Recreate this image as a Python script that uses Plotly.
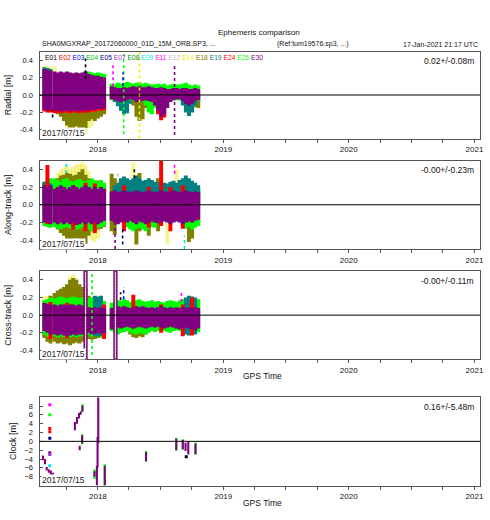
import plotly.graph_objects as go

# ---------------- satellites / legend ----------------
SATS = ["E01", "E02", "E03", "E04", "E05", "E07", "E08", "E09", "E11", "E12",
        "E14", "E18", "E19", "E24", "E26", "E30"]
SAT_COLORS = {"E01": "#000000", "E02": "#ff0000", "E03": "#0000ff", "E04": "#00cd00",
              "E05": "#000080", "E07": "#9932cc", "E08": "#008b00", "E09": "#00e5e5",
              "E11": "#ff00ff", "E12": "#c0c0c0", "E14": "#f0f000", "E18": "#808000",
              "E19": "#008080", "E24": "#ff0000", "E26": "#00ff00", "E30": "#800080"}

PANEL_TITLES = ["Radial [m]", "Along-track [m]", "Cross-track [m]", "Clock [m]"]
STATS = ["0.02+/-0.08m", "-0.00+/-0.23m", "-0.00+/-0.11m", "0.16+/-5.48m"]
START_LABEL = "2017/07/15"
TITLE = "Ephemeris comparison"
SUB_LEFT = "SHA0MGXRAP_20172060000_01D_15M_ORB.SP3, ..."
SUB_MID = "(Ref:tum19576.sp3, ...)"
SUB_RIGHT = "17-Jan-2021 21:17 UTC"
X_TITLE = "GPS Time"
X_RANGE = ["2017-07-15", "2021-01-17"]
ORB_TICKS = [-0.4, -0.2, 0.0, 0.2, 0.4]
ORB_TICKTEXT = ["-0.4", "-0.2", "0.0", "0.2", "0.4"]
CLK_TICKS = [-8, -6, -4, -2, 0, 2, 4, 6, 8]

# ---------------- time bins (bin centres) ----------------
BIN_DATES = ["2017-07-29", "2017-08-07", "2017-08-16", "2017-08-28", "2017-09-06",
             "2017-09-15", "2017-09-24", "2017-10-03", "2017-10-12", "2017-10-21",
             "2017-10-30", "2017-11-08", "2017-11-17", "2017-11-26", "2017-12-05",
             "2017-12-14", "2017-12-23", "2018-01-01", "2018-01-10", "2018-01-19",
             "2018-02-10", "2018-02-19", "2018-02-28", "2018-03-09", "2018-03-18",
             "2018-03-27", "2018-04-05", "2018-04-14", "2018-04-23", "2018-05-02",
             "2018-05-11", "2018-05-20", "2018-05-29", "2018-06-07", "2018-06-16",
             "2018-06-25", "2018-07-04", "2018-07-13", "2018-07-22", "2018-07-31",
             "2018-08-09", "2018-08-18", "2018-08-27", "2018-09-05", "2018-09-14",
             "2018-09-23", "2018-10-02", "2018-10-11", "2018-10-20"]

# ---------------- Radial ----------------
RAD_E30_LO = [-0.17, -0.18, -0.17, -0.18, -0.18, -0.19, -0.18, -0.18, -0.19, -0.18,
              -0.18, -0.19, -0.18, -0.18, -0.18, -0.17, -0.17, -0.16, -0.16, -0.15,
              -0.05, -0.06, -0.07, -0.08, -0.07, -0.06, -0.05, -0.06, -0.08, -0.08,
              -0.07, -0.06, -0.07, -0.08, -0.12, -0.18, -0.25, -0.22, -0.15, -0.08,
              -0.06, -0.05, -0.05, -0.07, -0.10, -0.12, -0.10, -0.07, -0.06]
RAD_E30_HI = [0.30, 0.29, 0.28, 0.27, 0.26, 0.27, 0.26, 0.27, 0.26, 0.25,
              0.26, 0.25, 0.26, 0.27, 0.24, 0.23, 0.22, 0.22, 0.21, 0.20,
              0.10, 0.09, 0.08, 0.08, 0.09, 0.08, 0.09, 0.10, 0.09, 0.10,
              0.09, 0.09, 0.10, 0.09, 0.08, 0.08, 0.09, 0.08, 0.07, 0.07,
              0.08, 0.08, 0.07, 0.08, 0.08, 0.07, 0.07, 0.08, 0.07]

RAD_E18_DATES = ["2017-09-06", "2017-09-15", "2017-09-24", "2017-10-03", "2017-10-12",
                 "2017-10-21", "2017-10-30", "2017-11-08", "2017-11-17", "2017-11-26",
                 "2017-12-05", "2017-12-14", "2017-12-23", "2018-01-01", "2018-01-10",
                 "2018-01-19", "2018-04-14", "2018-04-23", "2018-05-02", "2018-05-11",
                 "2018-05-20", "2018-10-02", "2018-10-11", "2018-10-20"]
RAD_E18_LO = [-0.22, -0.25, -0.30, -0.35, -0.38, -0.38, -0.36, -0.40, -0.42, -0.38,
              -0.30, -0.28, -0.30, -0.27, -0.25, -0.22, -0.12, -0.25, -0.30, -0.28,
              -0.15, -0.10, -0.14, -0.15]
RAD_E18_HI = [0.00, 0.00, 0.00, 0.00, 0.00, 0.00, 0.00, 0.00, 0.00, 0.00,
              0.00, 0.00, 0.00, 0.00, 0.00, 0.00, 0.00, 0.00, 0.00, 0.00,
              0.00, 0.00, 0.00, 0.00]

RAD_E14_DATES = ["2017-07-29", "2017-08-07", "2017-08-16", "2017-08-28", "2017-10-03",
                 "2017-10-12", "2017-10-21", "2017-10-30", "2017-11-08", "2017-11-17",
                 "2017-11-26", "2017-12-05", "2017-12-14"]
RAD_E14_LO = [0.20, 0.20, 0.20, 0.20, -0.42, -0.44, -0.46, -0.44, -0.47, -0.48, -0.45, -0.38, -0.35]
RAD_E14_HI = [0.33, 0.34, 0.32, 0.33, -0.20, -0.20, -0.20, -0.20, -0.20, -0.20, -0.20, -0.20, -0.20]

RAD_E19_DATES = ["2017-07-29", "2017-08-07", "2017-08-16", "2018-02-19", "2018-02-28",
                 "2018-03-09", "2018-03-18", "2018-03-27", "2018-04-05", "2018-09-05",
                 "2018-09-14", "2018-09-23", "2018-10-02", "2018-10-11"]
RAD_E19_LO = [0.00, 0.00, 0.00, -0.08, -0.13, -0.18, -0.22, -0.21, -0.10, -0.12, -0.20, -0.24, -0.20, -0.12]
RAD_E19_HI = [0.32, 0.31, 0.30, 0.05, 0.05, 0.05, 0.05, 0.05, 0.05, 0.05, 0.05, 0.05, 0.05, 0.05]

RAD_E26_DATES = BIN_DATES[14:]
RAD_E26_LO = [0.00, 0.00, 0.00, 0.00, 0.00, 0.00,
              -0.06, -0.06, -0.07, -0.07, -0.07, -0.06, -0.06, -0.07, -0.08, -0.08,
              -0.08, -0.12, -0.20, -0.22, -0.15, -0.08, -0.08, -0.07, -0.06, -0.06,
              -0.06, -0.06, -0.06, -0.07, -0.08, -0.08, -0.08, -0.07, -0.07]
RAD_E26_HI = [0.27, 0.26, 0.25, 0.26, 0.25, 0.24,
              0.13, 0.12, 0.14, 0.13, 0.14, 0.15, 0.14, 0.13, 0.14, 0.15,
              0.13, 0.14, 0.13, 0.12, 0.12, 0.13, 0.12, 0.13, 0.11, 0.12,
              0.13, 0.12, 0.12, 0.13, 0.14, 0.12, 0.11, 0.12, 0.11]

RAD_E02_DATES = BIN_DATES[:20] + ["2018-06-25", "2018-07-04", "2018-07-13"]
RAD_E02_LO = [-0.19, -0.20, -0.20, -0.21, -0.20, -0.21, -0.20, -0.20, -0.21, -0.20,
              -0.20, -0.21, -0.20, -0.20, -0.20, -0.19, -0.19, -0.18, -0.18, -0.17,
              -0.22, -0.29, -0.26]
RAD_E02_HI = [0.00, 0.00, 0.00, 0.00, 0.00, 0.00, 0.00, 0.00, 0.00, 0.00,
              0.00, 0.00, 0.00, 0.00, 0.00, 0.00, 0.00, 0.00, 0.00, 0.00,
              0.00, 0.00, 0.00]

RAD_SPK_SAT = ["E26", "E14", "E30", "E01", "E01", "E11", "E03"]
RAD_SPK_DATE = ["2018-03-17", "2018-05-02", "2018-08-12", "2017-11-26", "2017-08-22", "2018-02-14", "2018-03-15"]
RAD_SPK_LO = [-0.45, -0.50, -0.46, 0.18, -0.26, 0.10, 0.10]
RAD_SPK_HI = [0.47, 0.50, 0.35, 0.42, -0.17, 0.38, 0.26]

# ---------------- Along-track ----------------
ALT_E30_LO = [-0.20, -0.20, -0.22, -0.20, -0.22, -0.20, -0.22, -0.20, -0.22, -0.20,
              -0.23, -0.22, -0.20, -0.22, -0.20, -0.22, -0.20, -0.22, -0.20, -0.18,
              -0.18, -0.20, -0.22, -0.20, -0.19, -0.20, -0.18, -0.20, -0.22, -0.19,
              -0.20, -0.22, -0.20, -0.19, -0.20, -0.21, -0.20, -0.19, -0.20, -0.22,
              -0.20, -0.19, -0.20, -0.22, -0.20, -0.19, -0.20, -0.18, -0.17]
ALT_E30_HI = [0.22, 0.20, 0.22, 0.18, 0.20, 0.22, 0.20, 0.18, 0.20, 0.22,
              0.20, 0.18, 0.20, 0.22, 0.20, 0.18, 0.20, 0.18, 0.20, 0.18,
              0.15, 0.16, 0.14, 0.15, 0.16, 0.15, 0.14, 0.15, 0.16, 0.15,
              0.14, 0.15, 0.16, 0.15, 0.14, 0.15, 0.16, 0.15, 0.14, 0.15,
              0.16, 0.15, 0.14, 0.15, 0.16, 0.15, 0.14, 0.15, 0.14]

ALT_E19_DATES = BIN_DATES[:3] + BIN_DATES[21:]
ALT_E19_LO = [0.00, 0.00, 0.00,
              0.00, 0.00, 0.00, 0.00, 0.00, 0.00, 0.00, 0.00, 0.00, 0.00,
              0.00, 0.00, 0.00, 0.00, 0.00, 0.00, 0.00, 0.00, 0.00, 0.00,
              0.00, 0.00, 0.00, 0.00, 0.00, 0.00, 0.00, 0.00]
ALT_E19_HI = [0.26, 0.25, 0.24,
              0.22, 0.25, 0.30, 0.32, 0.30, 0.28, 0.30, 0.33, 0.30, 0.27,
              0.28, 0.30, 0.28, 0.26, 0.25, 0.27, 0.25, 0.24, 0.26, 0.27,
              0.25, 0.28, 0.30, 0.33, 0.30, 0.27, 0.25, 0.22]

ALT_E26_DATES = BIN_DATES[:20] + BIN_DATES[25:35] + BIN_DATES[43:]
ALT_E26_LO = [-0.24, -0.25, -0.26, -0.25, -0.27, -0.28, -0.26, -0.25, -0.27, -0.26,
              -0.28, -0.27, -0.25, -0.26, -0.28, -0.30, -0.28, -0.26, -0.25, -0.24,
              -0.25, -0.28, -0.30, -0.27, -0.26, -0.28, -0.30, -0.27, -0.25, -0.26,
              -0.24, -0.27, -0.25, -0.28, -0.26, -0.24]
ALT_E26_HI = [0.25, 0.28, 0.30, 0.30, 0.28, 0.26, 0.29, 0.30, 0.27, 0.26,
              0.28, 0.29, 0.27, 0.26, 0.28, 0.30, 0.28, 0.26, 0.28, 0.25,
              0.18, 0.18, 0.18, 0.18, 0.18, 0.18, 0.18, 0.18, 0.18, 0.18,
              0.18, 0.18, 0.18, 0.18, 0.18, 0.18]

ALT_E18_DATES = BIN_DATES[3:20] + ["2018-02-10", "2018-02-19", "2018-04-23", "2018-05-02",
                                   "2018-05-29", "2018-06-25", "2018-09-23", "2018-10-02"]
ALT_E18_LO = [-0.25, -0.28, -0.32, -0.35, -0.40, -0.42, -0.40, -0.38, -0.42, -0.45,
              -0.44, -0.35, -0.30, -0.30, -0.28, -0.27, -0.25,
              -0.30, -0.34, -0.45, -0.30, -0.35, -0.30, -0.42, -0.38]
ALT_E18_HI = [0.22, 0.30, 0.33, 0.34, 0.36, 0.35, 0.33, 0.34, 0.37, 0.40,
              0.34, 0.30, 0.29, 0.28, 0.27, 0.26, 0.24,
              0.35, 0.30, 0.20, 0.36, 0.20, 0.30, 0.20, 0.20]

ALT_E14_DATES = BIN_DATES[4:15] + ["2017-12-14", "2017-12-23", "2018-01-01", "2018-04-14", "2018-07-22", "2018-08-18"]
ALT_E14_LO = [0.20, 0.20, 0.20, 0.20, 0.20, 0.20, 0.20, 0.20, 0.20, 0.20, 0.20,
              -0.40, -0.42, -0.38, 0.20, -0.45, 0.20]
ALT_E14_HI = [0.36, 0.40, 0.42, 0.44, 0.40, 0.43, 0.45, 0.46, 0.48, 0.45, 0.38,
              -0.20, -0.20, -0.20, 0.48, -0.20, 0.40]

ALT_E02_DATES = ["2017-08-07", "2017-10-21", "2017-11-26", "2017-12-23", "2018-03-18",
                 "2018-05-29", "2018-07-04", "2018-07-31", "2018-09-05"]
ALT_E02_LO = [-0.22, -0.28, -0.30, -0.32, -0.30, -0.26, -0.24, -0.30, -0.27]
ALT_E02_HI = [0.45, 0.22, 0.25, 0.24, 0.22, 0.20, 0.50, 0.20, 0.22]

ALT_SPK_SAT = ["E09", "E09", "E09", "E01", "E05", "E30", "E11", "E12"]
ALT_SPK_DATE = ["2017-10-01", "2017-11-22", "2018-09-10", "2018-04-17", "2018-03-14",
                "2018-02-20", "2018-08-12", "2018-02-28"]
ALT_SPK_LO = [0.36, -0.50, -0.50, 0.30, -0.45, -0.50, 0.35, 0.25]
ALT_SPK_HI = [0.50, -0.38, -0.35, 0.42, -0.25, -0.20, 0.47, 0.38]

# ---------------- Cross-track ----------------
XTR_E30_LO = [-0.18, -0.20, -0.22, -0.22, -0.23, -0.22, -0.23, -0.24, -0.23, -0.22,
              -0.23, -0.22, -0.22, -0.21, -0.20, -0.22, -0.21, -0.20, -0.21, -0.20,
              -0.16, -0.15, -0.14, -0.15, -0.14, -0.13, -0.14, -0.15, -0.14, -0.13,
              -0.14, -0.15, -0.14, -0.13, -0.14, -0.13, -0.14, -0.15, -0.14, -0.13,
              -0.14, -0.15, -0.16, -0.15, -0.14, -0.15, -0.16, -0.17, -0.15]
XTR_E30_HI = [0.14, 0.13, 0.12, 0.12, 0.11, 0.12, 0.12, 0.11, 0.12, 0.12,
              0.11, 0.12, 0.11, 0.10, 0.09, 0.08, 0.09, 0.08, 0.09, 0.08,
              0.08, 0.09, 0.10, 0.09, 0.10, 0.09, 0.08, 0.09, 0.10, 0.09,
              0.10, 0.09, 0.08, 0.09, 0.08, 0.09, 0.10, 0.09, 0.08, 0.09,
              0.08, 0.09, 0.08, 0.09, 0.08, 0.09, 0.08, 0.09, 0.08]

XTR_E26_LO = [-0.22, -0.24, -0.25, -0.24, -0.25, -0.24, -0.25, -0.26, -0.25, -0.24,
              -0.25, -0.24, -0.24, -0.23, -0.22, -0.24, -0.23, -0.24, -0.25, -0.24,
              -0.18, -0.20, -0.22, -0.20, -0.19, -0.18, -0.20, -0.21, -0.22, -0.20,
              -0.21, -0.22, -0.20, -0.18, -0.19, -0.18, -0.17, -0.18, -0.19, -0.20,
              -0.18, -0.17, -0.18, -0.20, -0.21, -0.22, -0.20, -0.21, -0.19]
XTR_E26_HI = [0.17, 0.18, 0.20, 0.19, 0.20, 0.21, 0.20, 0.19, 0.20, 0.21,
              0.20, 0.19, 0.20, 0.21, 0.20, 0.19, 0.18, 0.18, 0.17, 0.16,
              0.14, 0.15, 0.17, 0.16, 0.18, 0.17, 0.15, 0.16, 0.17, 0.18,
              0.16, 0.15, 0.16, 0.17, 0.15, 0.16, 0.15, 0.14, 0.16, 0.17,
              0.16, 0.15, 0.17, 0.18, 0.19, 0.18, 0.17, 0.19, 0.18]

XTR_E18_DATES = BIN_DATES[:20] + BIN_DATES[26:32]
XTR_E18_LO = [-0.26, -0.30, -0.32, -0.30, -0.32, -0.31, -0.33, -0.32, -0.34, -0.32,
              -0.31, -0.32, -0.30, -0.28, -0.27, -0.28, -0.27, -0.26, -0.25, -0.24,
              -0.22, -0.25, -0.26, -0.24, -0.25, -0.22]
XTR_E18_HI = [0.10, 0.15, 0.22, 0.25, 0.28, 0.30, 0.32, 0.35, 0.40, 0.42,
              0.40, 0.35, 0.32, 0.30, 0.22, 0.20, 0.18, 0.17, 0.16, 0.15,
              0.10, 0.10, 0.10, 0.10, 0.10, 0.10]

XTR_E14_DATES = ["2017-07-29", "2017-08-07", "2017-10-12", "2017-10-21", "2017-10-30"]
XTR_E14_LO = [0.12, 0.12, 0.30, 0.30, 0.30]
XTR_E14_HI = [0.21, 0.22, 0.44, 0.46, 0.42]

XTR_E19_DATES = ["2017-12-23", "2018-01-01", "2018-01-10", "2018-09-14", "2018-09-23", "2018-10-02", "2018-10-11"]
XTR_E19_LO = [-0.24, -0.24, -0.24, -0.22, -0.23, -0.22, -0.22]
XTR_E19_HI = [0.22, 0.21, 0.22, 0.20, 0.22, 0.21, 0.20]

XTR_E02_DATES = ["2017-08-16", "2017-10-03", "2018-01-19", "2018-04-14", "2018-07-04", "2018-09-05", "2018-10-02"]
XTR_E02_LO = [-0.27, -0.26, -0.27, -0.15, -0.20, -0.24, -0.23]
XTR_E02_HI = [0.15, 0.14, 0.12, 0.23, 0.12, 0.12, 0.20]

XTR_STRIPE_DATES = ["2017-11-26", "2018-02-21"]
XTR_STRIPE_LO = [-0.50, -0.50]
XTR_STRIPE_HI = [0.50, 0.50]

XTR_SPK_SAT = ["E26", "E03", "E01", "E11"]
XTR_SPK_DATE = ["2017-12-15", "2018-03-17", "2018-03-08", "2018-09-01"]
XTR_SPK_LO = [-0.45, 0.18, 0.17, 0.15]
XTR_SPK_HI = [0.48, 0.32, 0.26, 0.26]

# ---------------- Clock ----------------
CLK_DATES = ["2017-07-25", "2017-07-31", "2017-08-05", "2017-08-11", "2017-08-17", "2017-08-23",
             "2017-09-12",
             "2017-10-26", "2017-11-01", "2017-11-07", "2017-11-12", "2017-11-17",
             "2017-11-09", "2017-11-16",
             "2017-12-22", "2017-12-29", "2017-12-31", "2018-01-02",
             "2018-01-21", "2018-05-21", "2018-08-17",
             "2018-09-05", "2018-09-13", "2018-09-21", "2018-10-12"]
CLK_LO = [-4.3, -5.2, -6.6, -7.1, -7.7, -8.4,
          -10.0,
          2.5, 4.0, 5.2, 6.0, 6.8,
          -2.0, -0.5,
          -8.0, -10.0, -6.0, -0.5,
          -10.0, -4.5, -2.0,
          -1.8, -2.2, -3.0, -2.9]
CLK_HI = [-3.2, -4.0, -5.8, -6.3, -6.6, -7.1,
          -9.5,
          4.4, 5.5, 6.4, 6.8, 8.1,
          -1.0, 1.4,
          -6.8, -5.5, 1.0, 10.0,
          -5.5, -2.4, 0.6,
          0.3, -0.3, 0.0, -0.5]

CLK_E26_DATES = ["2017-11-17", "2017-11-16", "2017-12-22", "2018-01-21", "2018-05-21",
                 "2018-08-17", "2018-09-05", "2018-10-12"]
CLK_E26_LO = [6.6, -0.7, -8.5, -10.0, -4.6, -2.1, -1.9, -3.0]
CLK_E26_HI = [8.4, 1.6, -6.3, -5.2, -2.2, 0.8, 0.5, -0.3]

CLK_PT_SAT = ["E11", "E26", "E02", "E02", "E05", "E30", "E07", "E09", "E01"]
CLK_PT_DATE = ["2017-08-14", "2017-08-14", "2017-08-14", "2017-08-14", "2017-08-14",
               "2017-08-14", "2017-08-14", "2017-08-14", "2018-09-15"]
CLK_PT_VAL = [8.3, 6.0, 2.9, 2.2, 0.7, -2.6, -3.0, -5.5, -3.5]

# ---------------- figure ----------------
DAY_MS = 86400000
FONT = "Arial, Liberation Sans, sans-serif"
X_DOMAIN = [39.5 / 490, 480 / 490]
Y_DOMAINS = [[1 - 138.5 / 520, 1 - 51.5 / 520],
             [1 - 249 / 520, 1 - 160.5 / 520],
             [1 - 359.3 / 520, 1 - 271 / 520],
             [1 - 485.5 / 520, 1 - 397.2 / 520]]

fig = go.Figure()


def suf(i):
    return "" if i == 1 else str(i)


def band(panel, dates, lo, hi, color, width_days=11.5, pattern=None, line=None):
    assert len(dates) == len(lo) == len(hi), (len(dates), len(lo), len(hi))
    marker = dict(color=color, line=line or dict(width=0))
    if pattern:
        marker["pattern"] = pattern
    fig.add_trace(go.Bar(x=dates, base=lo, y=[h - l for l, h in zip(lo, hi)],
                         width=width_days * DAY_MS, marker=marker,
                         xaxis="x" + suf(panel), yaxis="y" + suf(panel),
                         hoverinfo="skip", showlegend=False))


def spikes(panel, sats, dates, lo, hi):
    for s, d, l, h in zip(sats, dates, lo, hi):
        fig.add_trace(go.Scatter(x=[d, d], y=[l, h], mode="lines",
                                 line=dict(color=SAT_COLORS[s], width=1.6, dash="dot"),
                                 xaxis="x" + suf(panel), yaxis="y" + suf(panel),
                                 hoverinfo="skip", showlegend=False))


YELLOW_PAT = dict(shape=".", fgcolor="#e8e800", bgcolor="rgba(0,0,0,0)",
                  size=3, solidity=0.8, fillmode="overlay")
YEL = "rgba(255,255,255,0)"

# panel 1 - radial
band(1, RAD_E14_DATES, RAD_E14_LO, RAD_E14_HI, YEL, pattern=YELLOW_PAT)
band(1, RAD_E18_DATES, RAD_E18_LO, RAD_E18_HI, SAT_COLORS["E18"])
band(1, RAD_E19_DATES, RAD_E19_LO, RAD_E19_HI, SAT_COLORS["E19"])
band(1, RAD_E26_DATES, RAD_E26_LO, RAD_E26_HI, SAT_COLORS["E26"])
band(1, RAD_E02_DATES, RAD_E02_LO, RAD_E02_HI, SAT_COLORS["E02"])
band(1, BIN_DATES, RAD_E30_LO, RAD_E30_HI, SAT_COLORS["E30"])
spikes(1, RAD_SPK_SAT, RAD_SPK_DATE, RAD_SPK_LO, RAD_SPK_HI)

# panel 2 - along-track
band(2, ALT_E14_DATES, ALT_E14_LO, ALT_E14_HI, YEL, pattern=YELLOW_PAT)
band(2, ALT_E18_DATES, ALT_E18_LO, ALT_E18_HI, SAT_COLORS["E18"])
band(2, ALT_E26_DATES, ALT_E26_LO, ALT_E26_HI, SAT_COLORS["E26"])
band(2, ALT_E19_DATES, ALT_E19_LO, ALT_E19_HI, SAT_COLORS["E19"])
band(2, ALT_E02_DATES, ALT_E02_LO, ALT_E02_HI, SAT_COLORS["E02"])
band(2, BIN_DATES, ALT_E30_LO, ALT_E30_HI, SAT_COLORS["E30"])
spikes(2, ALT_SPK_SAT, ALT_SPK_DATE, ALT_SPK_LO, ALT_SPK_HI)

# panel 3 - cross-track
band(3, XTR_E14_DATES, XTR_E14_LO, XTR_E14_HI, YEL, pattern=YELLOW_PAT)
band(3, XTR_E18_DATES, XTR_E18_LO, XTR_E18_HI, SAT_COLORS["E18"])
band(3, BIN_DATES, XTR_E26_LO, XTR_E26_HI, SAT_COLORS["E26"])
band(3, XTR_E19_DATES, XTR_E19_LO, XTR_E19_HI, SAT_COLORS["E19"])
band(3, XTR_E02_DATES, XTR_E02_LO, XTR_E02_HI, SAT_COLORS["E02"])
band(3, BIN_DATES, XTR_E30_LO, XTR_E30_HI, SAT_COLORS["E30"])
band(3, XTR_STRIPE_DATES, XTR_STRIPE_LO, XTR_STRIPE_HI, "#ffffff", width_days=8,
     pattern=dict(shape=".", fgcolor="#5a9a10", bgcolor="#ffffff", size=3, solidity=0.6),
     line=dict(color=SAT_COLORS["E30"], width=1.5))
spikes(3, XTR_SPK_SAT, XTR_SPK_DATE, XTR_SPK_LO, XTR_SPK_HI)

# panel 4 - clock
band(4, CLK_E26_DATES, CLK_E26_LO, CLK_E26_HI, SAT_COLORS["E26"], width_days=6.5)
band(4, CLK_DATES, CLK_LO, CLK_HI, SAT_COLORS["E30"], width_days=6)
fig.add_trace(go.Scatter(x=CLK_PT_DATE, y=CLK_PT_VAL, mode="markers",
                         marker=dict(symbol="square", size=3,
                                     color=[SAT_COLORS[s] for s in CLK_PT_SAT]),
                         xaxis="x4", yaxis="y4", hoverinfo="skip", showlegend=False))

axis_line = dict(showline=True, mirror=True, linecolor="#555555", linewidth=1,
                 showgrid=False, zeroline=False, automargin=False)
layout = dict(width=490, height=520, margin=dict(l=0, r=0, t=0, b=0, autoexpand=False),
              paper_bgcolor="white", plot_bgcolor="white", barmode="overlay",
              font=dict(family=FONT, color="#111111"), showlegend=False)
shapes = []
annotations = []
for i in range(1, 5):
    s = suf(i)
    layout["xaxis" + s] = dict(
        domain=X_DOMAIN, anchor="y" + s, type="date", range=X_RANGE,
        tick0="2018-01-01", dtick="M12", tickformat="%Y",
        ticks="outside", ticklen=3, tickcolor="#555555",
        minor=dict(dtick="M3", ticks="outside", ticklen=3, tickcolor="#555555"),
        tickfont=dict(size=8), **axis_line)
    if i < 4:
        yconf = dict(range=[-0.5, 0.5], tickvals=ORB_TICKS, ticktext=ORB_TICKTEXT)
    else:
        yconf = dict(range=[-10, 10], tickvals=CLK_TICKS)
    layout["yaxis" + s] = dict(
        domain=Y_DOMAINS[i - 1], anchor="x" + s, ticks="inside", ticklen=3,
        tickcolor="#555555", tickfont=dict(size=7.5), ticklabelstandoff=4,
        title=dict(text=PANEL_TITLES[i - 1], font=dict(size=9), standoff=6),
        **yconf, **axis_line)
    shapes.append(dict(type="line", xref="x" + s + " domain", yref="y" + s,
                       x0=0, x1=1, y0=0, y1=0, layer="above",
                       line=dict(color="black", width=1)))
    top_px = 520 * (1 - Y_DOMAINS[i - 1][1])
    bot_px = 520 * (1 - Y_DOMAINS[i - 1][0])
    annotations.append(dict(text=STATS[i - 1], xref="paper", yref="paper",
                            x=476 / 490, y=1 - (top_px + 9.5) / 520,
                            xanchor="right", yanchor="middle", showarrow=False,
                            font=dict(size=8.5)))
    annotations.append(dict(text=START_LABEL, xref="paper", yref="paper",
                            x=40.5 / 490, y=1 - (bot_px - 5.5) / 520,
                            xanchor="left", yanchor="middle", showarrow=False,
                            bgcolor="white", borderpad=0,
                            font=dict(size=8.5, color="#222222")))

legend_html = " ".join(
    '<span style="color:%s">%s</span>' % (SAT_COLORS[s], s) for s in SATS)
annotations += [
    dict(text=legend_html, xref="paper", yref="paper", x=43 / 490, y=1 - 57.5 / 520,
         xanchor="left", yanchor="middle", showarrow=False, font=dict(size=6.7)),
    dict(text=TITLE, xref="paper", yref="paper", x=259 / 490, y=1 - 32 / 520,
         xanchor="center", yanchor="middle", showarrow=False, font=dict(size=8)),
    dict(text=SUB_LEFT, xref="paper", yref="paper", x=40 / 490, y=1 - 44 / 520,
         xanchor="left", yanchor="middle", showarrow=False, font=dict(size=7)),
    dict(text=SUB_MID, xref="paper", yref="paper", x=313 / 490, y=1 - 44 / 520,
         xanchor="center", yanchor="middle", showarrow=False, font=dict(size=7)),
    dict(text=SUB_RIGHT, xref="paper", yref="paper", x=480 / 490, y=1 - 44 / 520,
         xanchor="right", yanchor="middle", showarrow=False, font=dict(size=7)),
    dict(text=X_TITLE, xref="paper", yref="paper", x=262 / 490, y=1 - 376 / 520,
         xanchor="center", yanchor="middle", showarrow=False, font=dict(size=8.5)),
    dict(text=X_TITLE, xref="paper", yref="paper", x=262 / 490, y=1 - 503 / 520,
         xanchor="center", yanchor="middle", showarrow=False, font=dict(size=8.5)),
]
layout["shapes"] = shapes
layout["annotations"] = annotations
fig.update_layout(**layout)
fig.write_html("out.html", config={"displayModeBar": False},
               post_script="document.body.style.margin='0';document.body.style.padding='0';")
